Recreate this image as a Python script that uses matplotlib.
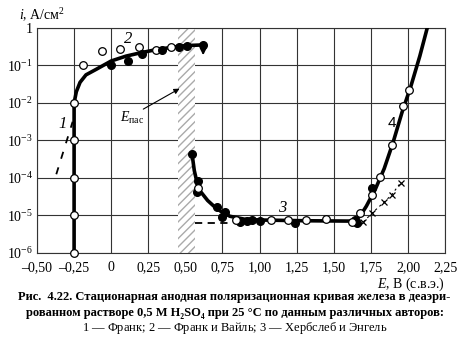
import numpy as np
import matplotlib.pyplot as plt

plt.rcParams['font.family'] = ['Liberation Serif', 'DejaVu Serif']

# curve 2 (Frank & Weil) markers
c2_open_E = [-0.19, -0.06, 0.06, 0.19, 0.30, 0.40]
c2_open_i = [0.10, 0.25, 0.27, 0.32, 0.26, 0.32]
c2_fill_E = [0.0, 0.11, 0.21, 0.34, 0.46, 0.51, 0.62]
c2_fill_i = [0.10, 0.135, 0.20, 0.26, 0.32, 0.34, 0.35]

# curve 1 open circles on vertical line
c1_E = [-0.25, -0.25, -0.25, -0.25, -0.25]
c1_i = [1e-2, 1e-3, 1e-4, 1e-5, 1e-6]
dash1_E = [-0.37, -0.26]
dash1_i = [10**-3.9, 10**-2.5]

# active branch curve
act_E = [-0.25, -0.25, -0.235, -0.21, -0.17, -0.1, 0.0, 0.1, 0.2, 0.3, 0.4, 0.5, 0.63]
act_logi = [-6, -2, -1.7, -1.45, -1.25, -1.1, -0.88, -0.75, -0.66, -0.58, -0.52, -0.47, -0.45]

# passive + transpassive curve
pas_E = [0.545, 0.56, 0.58, 0.6, 0.65, 0.7, 0.75, 0.8, 0.9, 1.0, 1.3, 1.64,
         1.68, 1.72, 1.78, 1.84, 1.9, 1.96, 2.02, 2.08, 2.13]
pas_logi = [-3.36, -3.8, -4.15, -4.35, -4.6, -4.78, -4.92, -5.02, -5.1, -5.12, -5.14, -5.15,
            -5.0, -4.75, -4.3, -3.75, -3.05, -2.25, -1.55, -0.75, 0.0]

# curve 3 markers
c3_fill_E = [0.545, 0.585, 0.578, 0.71, 0.767, 0.745, 0.868, 0.915, 0.949, 1.0, 1.24,
             1.64, 1.66, 1.76]
c3_fill_logi = [-3.36, -4.08, -4.37, -4.77, -4.9, -5.04, -5.17, -5.15, -5.12, -5.15, -5.2,
                -5.12, -5.2, -4.27]
c3_open_E = [0.585, 0.84, 1.08, 1.19, 1.31, 1.45, 1.62, 1.68, 1.76, 1.81, 1.89, 1.97, 2.01]
c3_open_logi = [-4.27, -5.12, -5.12, -5.12, -5.12, -5.09, -5.17, -4.93, -4.45, -3.97, -3.12,
                -2.08, -1.65]

# crosses (curve 4 region)
cross_E = [1.70, 1.76, 1.84, 1.89, 1.95]
cross_logi = [-5.17, -4.93, -4.64, -4.45, -4.13]
dash3_E = [0.565, 0.80]
dash3_logi = [-5.2, -5.2]

xticks = [-0.5, -0.25, 0, 0.25, 0.5, 0.75, 1.0, 1.25, 1.5, 1.75, 2.0, 2.25]
xtick_labels = ['\u20130,50', '\u20130,25', '0', '0,25', '0,50', '0,75', '1,00', '1,25',
                '1,50', '1,75', '2,00', '2,25']
yticks = [1e-6, 1e-5, 1e-4, 1e-3, 1e-2, 1e-1, 1]
ytick_labels = [r'$10^{-6}$', r'$10^{-5}$', r'$10^{-4}$', r'$10^{-3}$', r'$10^{-2}$',
                r'$10^{-1}$', '1']

plt.rcParams['mathtext.fontset'] = 'custom'
plt.rcParams['mathtext.rm'] = 'Liberation Serif'
plt.rcParams['mathtext.it'] = 'Liberation Serif:italic'

fig = plt.figure(figsize=(4.69, 3.43), dpi=100)
ax = fig.add_axes([0.0789, 0.2624, 0.8700, 0.6560])
ax.set_yscale('log')
ax.set_xlim(-0.5, 2.25)
ax.set_ylim(1e-6, 1)
ax.set_xticks(xticks)
ax.set_xticklabels(xtick_labels, fontsize=10)
ax.set_yticks(yticks)
ax.set_yticklabels(ytick_labels, fontsize=10)
ax.minorticks_off()
ax.tick_params(length=0, pad=3)
ax.tick_params(axis='x', pad=6)
ax.grid(True, color='#333333', lw=0.8)
for s in ax.spines.values():
    s.set_linewidth(0.8)
    s.set_color('#333333')

# hatched E_pas band
ax.axvspan(0.45, 0.565, facecolor='white', edgecolor='#aaaaaa', hatch='////', lw=0, zorder=2)

ax.plot(act_E, 10 ** np.array(act_logi), color='black', lw=2.6, zorder=3)
ax.plot(pas_E, 10 ** np.array(pas_logi), color='black', lw=2.6, zorder=3)
ax.plot(dash1_E, dash1_i, color='black', lw=1.3, ls=(0, (4, 5)), zorder=3)
ax.plot(dash3_E, 10 ** np.array(dash3_logi), color='black', lw=1.3, ls=(0, (4, 3)), zorder=3)
ax.plot(cross_E, 10 ** np.array(cross_logi), color='black', lw=0.8, ls=(0, (2, 3)),
        marker='x', ms=4, mew=0.9, zorder=3)

ax.plot(c1_E, c1_i, 'o', ms=5.5, mfc='white', mec='black', mew=0.9, zorder=4, clip_on=False)
ax.plot(c2_open_E, c2_open_i, 'o', ms=5.5, mfc='white', mec='black', mew=0.9, zorder=4)
ax.plot(c2_fill_E, c2_fill_i, 'o', ms=5.5, color='black', zorder=4)
ax.plot(c3_fill_E, 10 ** np.array(c3_fill_logi), 'o', ms=5.5, color='black', zorder=4)
ax.plot(c3_open_E, 10 ** np.array(c3_open_logi), 'o', ms=5.5, mfc='white', mec='black',
        mew=0.9, zorder=4)

ax.annotate('', xy=(0.62, 10**-0.8), xytext=(0.62, 10**-0.45),
            arrowprops=dict(arrowstyle='-|>', color='black', lw=1.3, mutation_scale=9), zorder=5)
ax.annotate('', xy=(0.477, 10**-1.58), xytext=(0.2, 10**-2.2),
            arrowprops=dict(arrowstyle='-|>', color='black', lw=0.8, mutation_scale=8), zorder=5)
ax.text(0.14, 10**-2.4, r'$E_{\rm пас}$', fontsize=10, ha='center', va='center', zorder=5)

ax.text(-0.325, 10**-2.55, '1', fontsize=12, style='italic', ha='center', va='center')
ax.text(0.115, 10**-0.3, '2', fontsize=12, style='italic', ha='center', va='center')
ax.text(1.15, 10**-4.8, '3', fontsize=12, style='italic', ha='center', va='center')
ax.text(1.89, 10**-2.53, '4', fontsize=11, ha='center', va='center', family='Liberation Sans')

fig.text(0.04, 0.955, r'$i$, А/см$^2$', fontsize=10, ha='left', va='center')
fig.text(0.949, 0.172, r'$E$, В (с.в.э.)', fontsize=10, ha='right', va='center')

fig.text(0.5, 0.133, 'Рис.  4.22. Стационарная анодная поляризационная кривая железа в деаэри-',
         fontsize=9, weight='bold', ha='center', va='center')
fig.text(0.5, 0.088, 'рованном растворе 0,5 М H\u2082SO\u2084 при 25 °С по данным различных авторов:',
         fontsize=9, weight='bold', ha='center', va='center')
fig.text(0.5, 0.043, r'$\mathit{1}$ — Франк; $\mathit{2}$ — Франк и Вайль; $\mathit{3}$ — Хербслеб и Энгель',
         fontsize=9, ha='center', va='center')

fig.savefig('out.png', dpi=100)
